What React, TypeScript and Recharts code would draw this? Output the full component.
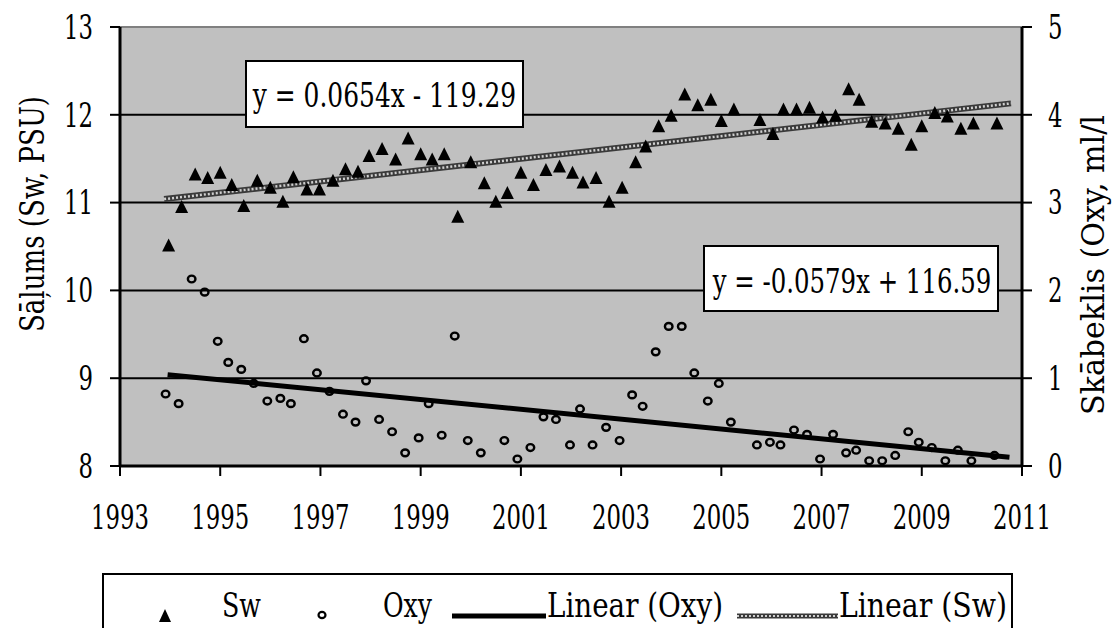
import React from 'react';
import {
    ScatterChart,
    Scatter,
    XAxis,
    YAxis,
    CartesianGrid,
    ReferenceLine,
} from 'recharts';

document.body.style.margin = '0';

// Sw (salinity, PSU) - left axis
const swYears = [
    1993.97, 1994.23, 1994.5, 1994.75, 1995.0, 1995.23, 1995.47, 1995.74, 1996.0, 1996.25,
    1996.46, 1996.73, 1996.98, 1997.25, 1997.5, 1997.75, 1997.97, 1998.23, 1998.5, 1998.75,
    1999.0, 1999.23, 1999.47, 1999.74, 2000.0, 2000.27, 2000.5, 2000.73, 2001.0, 2001.25,
    2001.5, 2001.77, 2002.03, 2002.24, 2002.5, 2002.76, 2003.02, 2003.29, 2003.49, 2003.75,
    2004.0, 2004.27, 2004.53, 2004.79, 2005.0, 2005.25, 2005.77, 2006.03, 2006.24, 2006.5,
    2006.76, 2007.02, 2007.28, 2007.54, 2007.75, 2008.0, 2008.27, 2008.53, 2008.79, 2009.0,
    2009.26, 2009.51, 2009.78, 2010.03, 2010.5,
];
const swValues = [
    10.51, 10.95, 11.32, 11.28, 11.34, 11.2, 10.96, 11.25, 11.17, 11.01,
    11.29, 11.15, 11.15, 11.25, 11.38, 11.35, 11.53, 11.61, 11.49, 11.73,
    11.55, 11.49, 11.55, 10.84, 11.46, 11.22, 11.01, 11.11, 11.34, 11.2,
    11.37, 11.41, 11.34, 11.23, 11.28, 11.01, 11.17, 11.46, 11.64, 11.87,
    11.99, 12.23, 12.11, 12.17, 11.93, 12.06, 11.94, 11.78, 12.06, 12.06,
    12.08, 11.97, 11.99, 12.29, 12.17, 11.92, 11.9, 11.84, 11.66, 11.87,
    12.02, 11.98, 11.84, 11.9, 11.9,
];

// Oxy (oxygen, ml/l) - right axis
const oxyYears = [
    1993.91, 1994.17, 1994.43, 1994.69, 1994.95, 1995.16, 1995.42, 1995.67, 1995.94, 1996.2,
    1996.41, 1996.67, 1996.93, 1997.18, 1997.45, 1997.7, 1997.91, 1998.17, 1998.43, 1998.69,
    1998.96, 1999.16, 1999.42, 1999.68, 1999.94, 2000.2, 2000.67, 2000.93, 2001.19, 2001.45,
    2001.7, 2001.98, 2002.18, 2002.43, 2002.7, 2002.97, 2003.22, 2003.43, 2003.69, 2003.95,
    2004.21, 2004.46, 2004.73, 2004.95, 2005.19, 2005.71, 2005.97, 2006.18, 2006.45, 2006.71,
    2006.97, 2007.23, 2007.49, 2007.69, 2007.95, 2008.21, 2008.47, 2008.73, 2008.94, 2009.2,
    2009.47, 2009.72, 2009.99, 2010.45,
];
const oxyValues = [
    0.82, 0.71, 2.13, 1.98, 1.42, 1.18, 1.1, 0.94, 0.74, 0.77,
    0.71, 1.45, 1.06, 0.85, 0.59, 0.5, 0.97, 0.53, 0.39, 0.15,
    0.32, 0.71, 0.35, 1.48, 0.29, 0.15, 0.29, 0.08, 0.21, 0.56,
    0.53, 0.24, 0.65, 0.24, 0.44, 0.29, 0.81, 0.68, 1.3, 1.59,
    1.59, 1.06, 0.74, 0.94, 0.5, 0.24, 0.27, 0.24, 0.41, 0.36,
    0.08, 0.36, 0.15, 0.18, 0.06, 0.06, 0.12, 0.39, 0.27, 0.21,
    0.06, 0.18, 0.06, 0.12,
];

// linear trend end points
const swTrendYears = [1993.88, 2010.78];
const swTrendValues = [11.04, 12.13];
const oxyTrendYears = [1993.95, 2010.75];
const oxyTrendValues = [1.04, 0.1];

const yearTicks = [1993, 1995, 1997, 1999, 2001, 2003, 2005, 2007, 2009, 2011];
const swTicks = [8, 9, 10, 11, 12, 13];
const oxyTicks = [0, 1, 2, 3, 4, 5];

const swEquation = 'y = 0.0654x - 119.29';
const oxyEquation = 'y = -0.0579x + 116.59';

// no Times-metric serif is installed, so DejaVu Serif is squeezed to the original widths
const FONT = "'DejaVu Serif', serif";
const FS = 33;
const DIGIT_W = 14.5;

const zip = (xs: number[], ys: number[]) => xs.map((x, i) => ({ x, y: ys[i] }));
const swData = zip(swYears, swValues);
const oxyData = zip(oxyYears, oxyValues);
const swTrend = zip(swTrendYears, swTrendValues);
const oxyTrend = zip(oxyTrendYears, oxyTrendValues);

const Triangle = ({ cx, cy }: any) => (
    <polygon points={`${cx},${cy - 7} ${cx + 6.5},${cy + 6} ${cx - 6.5},${cy + 6}`} fill="#000" />
);

const OpenMarker = ({ cx, cy }: any) => (
    <ellipse cx={cx} cy={cy} rx={3.8} ry={3.4} fill="none" stroke="#000" strokeWidth={2.4} />
);

const Nothing = () => <g />;

const NarrowTick = ({ x, y, payload, textAnchor, dy }: any) => {
    const label = String(payload.value);
    return (
        <text
            x={x}
            y={y}
            dy={dy}
            textAnchor={textAnchor}
            fontSize={FS}
            fill="#000"
            style={{ fontFamily: FONT }}
            textLength={label.length * DIGIT_W}
            lengthAdjust="spacingAndGlyphs"
        >
            {label}
        </text>
    );
};

const XTick = (props: any) => <NarrowTick {...props} textAnchor="middle" dy="0.71em" />;
const LeftTick = (props: any) => <NarrowTick {...props} textAnchor="end" dy="0.355em" />;
const RightTick = (props: any) => <NarrowTick {...props} textAnchor="start" dy="0.355em" />;

const T = ({ x, y, len, anchor = 'start', children }: any) => (
    <text
        x={x}
        y={y}
        fontSize={FS}
        textAnchor={anchor}
        textLength={len}
        lengthAdjust="spacingAndGlyphs"
    >
        {children}
    </text>
);

// text squeezed horizontally with a transform, so its box is the drawn one
const Squeezed = ({ x, y, sx, children }: any) => (
    <g transform={`translate(${x} ${y}) scale(${sx} 1)`}>
        <text x={0} y={0} fontSize={FS} textAnchor="middle">
            {children}
        </text>
    </g>
);

const Overlay = () => (
    <svg
        width={1116}
        height={628}
        style={{ position: 'absolute', left: 0, top: 0, pointerEvents: 'none', fontFamily: FONT }}
    >
        {/* axis titles */}
        <text
            x={32}
            y={214}
            transform="rotate(-90 32 214)"
            textAnchor="middle"
            dominantBaseline="central"
            fontSize={FS}
            textLength={236}
            lengthAdjust="spacingAndGlyphs"
        >
            Sāļums (Sw, PSU)
        </text>
        <text
            x={1093}
            y={265}
            transform="rotate(-90 1093 265)"
            textAnchor="middle"
            dominantBaseline="central"
            fontSize={31}
            textLength={300}
            lengthAdjust="spacingAndGlyphs"
        >
            Skābeklis (Oxy, ml/l
        </text>

        {/* trend equations */}
        <rect x={246} y={61} width={277} height={66} fill="#fff" stroke="#000" strokeWidth={2} />
        <Squeezed x={384.5} y={106.5} sx={0.755}>{swEquation}</Squeezed>
        <rect x={704} y={246} width={294} height={65} fill="#fff" stroke="#000" strokeWidth={2} />
        <Squeezed x={852} y={293} sx={0.74}>{oxyEquation}</Squeezed>

        {/* legend */}
        <rect x={103} y={574} width={909} height={70} fill="#fff" stroke="#000" strokeWidth={2} />
        <polygon points="165,609 171,622 159,622" fill="#000" />
        <T x={222} y={617} len={39}>Sw</T>
        <ellipse cx={322} cy={615} rx={3.5} ry={3.2} fill="none" stroke="#000" strokeWidth={2.2} />
        <T x={383} y={617} len={49}>Oxy</T>
        <line x1={452} y1={616} x2={546} y2={616} stroke="#000" strokeWidth={5} />
        <T x={547} y={617} len={176}>Linear (Oxy)</T>
        <line x1={737} y1={616} x2={838} y2={616} stroke="#3a3a3a" strokeWidth={5} />
        <line x1={737} y1={616} x2={838} y2={616} stroke="#cfcfcf" strokeWidth={2} strokeDasharray="2 2" />
        <T x={839} y={617} len={168}>Linear (Sw)</T>
    </svg>
);

const App: React.FC = () => (
    <div style={{ position: 'relative', width: 1116, height: 628, background: '#fff', overflow: 'hidden' }}>
        <ScatterChart width={1116} height={628} margin={{ top: 27, right: 0, bottom: 102, left: 0 }}>
            <CartesianGrid
                yAxisId="sw"
                vertical={false}
                horizontalValues={[9, 10, 11, 12]}
                stroke="#000"
                strokeWidth={2}
                fill="#c0c0c0"
                fillOpacity={1}
            />
            <ReferenceLine yAxisId="sw" y={13} stroke="#808080" strokeWidth={2} />
            <XAxis
                type="number"
                dataKey="x"
                domain={[1993, 2011]}
                ticks={yearTicks}
                interval={0}
                height={60}
                tickSize={10}
                tickMargin={30}
                axisLine={{ stroke: '#000', strokeWidth: 3 }}
                tickLine={{ stroke: '#000', strokeWidth: 2 }}
                tick={XTick}
                allowDataOverflow
            />
            <YAxis
                yAxisId="sw"
                type="number"
                dataKey="y"
                domain={[8, 13]}
                ticks={swTicks}
                interval={0}
                width={120}
                tickSize={10}
                tickMargin={17}
                axisLine={{ stroke: '#000', strokeWidth: 3 }}
                tickLine={{ stroke: '#000', strokeWidth: 2 }}
                tick={LeftTick}
                allowDataOverflow
            />
            <YAxis
                yAxisId="oxy"
                orientation="right"
                type="number"
                dataKey="y"
                domain={[0, 5]}
                ticks={oxyTicks}
                interval={0}
                width={94}
                tickSize={10}
                tickMargin={16}
                axisLine={{ stroke: '#000', strokeWidth: 3 }}
                tickLine={{ stroke: '#000', strokeWidth: 2 }}
                tick={RightTick}
                allowDataOverflow
            />
            <Scatter
                name="Linear (Sw)"
                yAxisId="sw"
                data={swTrend}
                line={{ stroke: '#3a3a3a', strokeWidth: 6 }}
                shape={Nothing}
                isAnimationActive={false}
            />
            <Scatter
                name="Linear (Sw) texture"
                yAxisId="sw"
                data={swTrend}
                line={{ stroke: '#cfcfcf', strokeWidth: 2.5, strokeDasharray: '2 2' }}
                shape={Nothing}
                isAnimationActive={false}
            />
            <Scatter
                name="Linear (Oxy)"
                yAxisId="oxy"
                data={oxyTrend}
                line={{ stroke: '#000', strokeWidth: 5 }}
                shape={Nothing}
                isAnimationActive={false}
            />
            <Scatter name="Sw" yAxisId="sw" data={swData} shape={Triangle} isAnimationActive={false} />
            <Scatter name="Oxy" yAxisId="oxy" data={oxyData} shape={OpenMarker} isAnimationActive={false} />
        </ScatterChart>
        <Overlay />
    </div>
);

export default App;
